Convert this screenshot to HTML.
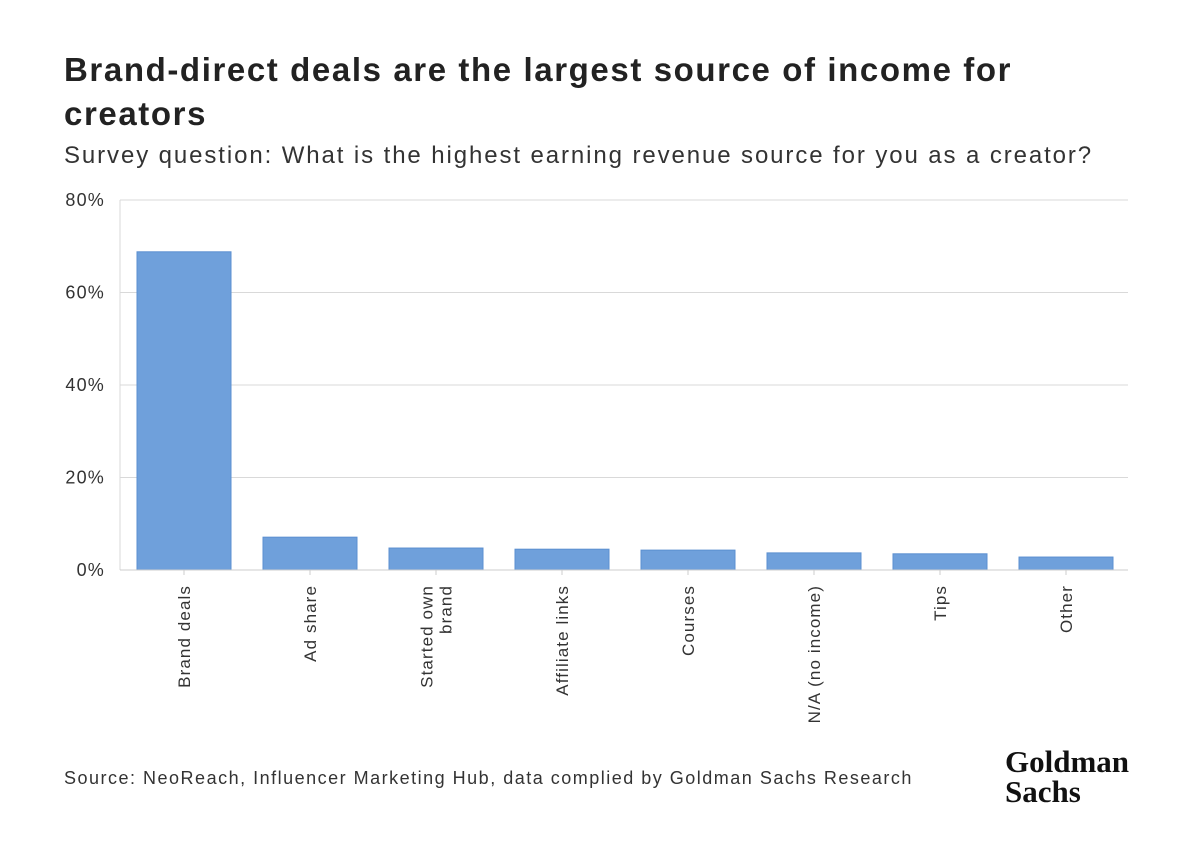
<!DOCTYPE html>
<html><head><meta charset="utf-8"><style>
body{margin:0;width:1200px;height:859px;background:#fff;font-family:"Liberation Sans",sans-serif;overflow:hidden;position:relative}
.t{position:absolute;left:64px;color:#222}
</style></head><body>
<div class="t" style="top:48px;font-size:33px;font-weight:bold;line-height:44px;width:1000px;letter-spacing:1.6px">Brand-direct deals are the largest source of income for creators</div>
<div class="t" style="top:142px;font-size:24px;color:#333;letter-spacing:1.9px;white-space:nowrap">Survey question: What is the highest earning revenue source for you as a creator?</div>
<svg width="1200" height="859" style="position:absolute;left:0;top:0">
<g id="g"></g>
<text x="64" y="784" font-size="18" fill="#333" font-family="Liberation Sans" letter-spacing="1.5">Source: NeoReach, Influencer Marketing Hub, data complied by Goldman Sachs Research</text>
<text x="1005" y="772" font-size="31" font-weight="bold" fill="#111" font-family="Liberation Serif">Goldman</text>
<text x="1005" y="802" font-size="31" font-weight="bold" fill="#111" font-family="Liberation Serif">Sachs</text>
</svg>
<script>
const categories=[["Brand deals"],["Ad share"],["Started own","brand"],["Affiliate links"],["Courses"],["N/A (no income)"],["Tips"],["Other"]];
const values=[68.8,7.1,4.75,4.5,4.3,3.7,3.5,2.8];
const ticks=[0,20,40,60,80];
const NS="http://www.w3.org/2000/svg";
const g=document.getElementById('g');
const x0=120,x1=1128,y0=570,ymax=80,ph=370;
const y=v=>y0-v/ymax*ph;
const step=126,bw=94;
const xc=i=>x0+17+bw/2+i*step;
function mk(t,a){const e=document.createElementNS(NS,t);for(const k in a)e.setAttribute(k,a[k]);g.appendChild(e);return e;}
ticks.forEach(t=>{
 const l=mk('line',{x1:x0,x2:x1,y1:y(t),y2:y(t),stroke:'#d9d9d9','stroke-width':1});
 
 
 const tx=mk('text',{x:105,y:y(t)+6,'text-anchor':'end','font-size':18,'letter-spacing':1.2,fill:'#333','font-family':'Liberation Sans'});
 tx.textContent=t+'%';
 
 
});
const ax=mk('line',{x1:x0,x2:x0,y1:y(ymax),y2:y0,stroke:'#d9d9d9'});


values.forEach((v,i)=>{
 const c=xc(i);
 const r=mk('rect',{x:c-bw/2,y:y(v),width:bw,height:y0-y(v),fill:'#6fa0db',stroke:'#5b8fd0','stroke-width':1});
 
 
 const tk=mk('line',{x1:c,x2:c,y1:y0,y2:y0+5,stroke:'#ccc'});
 
 
 const lines=categories[i];
 lines.forEach((s,j)=>{
  const off=(j-(lines.length-1)/2)*19;
  const tx=mk('text',{transform:`translate(${c+6+off},585) rotate(-90)`,'text-anchor':'end','font-size':17,'letter-spacing':1.1,fill:'#333','font-family':'Liberation Sans'});
  tx.textContent=s;
  
  
 });
});
const bl=mk('line',{x1:x0,x2:x1,y1:y0,y2:y0,stroke:'#ccc'});


</script>
</body></html>
